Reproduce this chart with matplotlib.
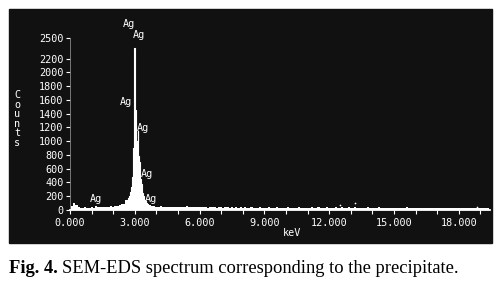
'''
SEM-EDS spectrum of the precipitate (Ag L lines)
'''
import matplotlib
matplotlib.use('Agg')
import matplotlib.pyplot as plt
from matplotlib.patches import Rectangle
from matplotlib.ticker import MultipleLocator
import numpy as np

# background counts, 0.1 keV channels from 0 to 19.4 keV
bg_kev = np.round(np.arange(0, 19.45, 0.1), 1)
bg_counts = [
    0, 60, 95, 70, 45, 35, 30, 40, 35, 30,
    40, 35, 55, 50, 45, 40, 50, 45, 40, 55,
    50, 60, 55, 70, 90, 80, 140, 110, 150, 200,
    300, 300, 250, 200, 150, 100, 80, 70, 60, 55,
    50, 45, 55, 40, 50, 45, 40, 50, 45, 40,
    45, 50, 40, 45, 55, 40, 45, 40, 50, 45,
    40, 45, 40, 50, 35, 40, 45, 40, 35, 45,
    40, 35, 45, 40, 35, 40, 30, 40, 35, 40,
    35, 40, 30, 35, 40, 35, 30, 35, 40, 30,
    35, 30, 40, 35, 30, 35, 40, 30, 35, 30,
    35, 40, 30, 35, 30, 35, 40, 35, 30, 35,
    30, 35, 40, 30, 35, 40, 30, 35, 30, 40,
    35, 30, 35, 40, 30, 35, 45, 30, 35, 40,
    30, 35, 40, 30, 35, 30, 35, 30, 40, 35,
    30, 35, 30, 40, 30, 35, 30, 35, 30, 35,
    30, 35, 30, 30, 35, 30, 40, 30, 35, 30,
    35, 30, 30, 35, 30, 30, 35, 30, 30, 35,
    30, 30, 35, 30, 30, 35, 30, 30, 35, 30,
    30, 35, 30, 30, 30, 35, 30, 30, 35, 30,
    30, 30, 35, 30, 30,
]

# Ag L-line region, 0.02 keV channels from 2.60 to 3.80 keV
peak_kev = np.round(np.arange(2.60, 3.81, 0.02), 2)
peak_counts = [
    120, 90, 110, 140, 130, 170, 150, 200, 190, 240,
    260, 300, 340, 400, 430, 480, 600, 900, 1480, 2350,
    1520, 1500, 1450, 1300, 900, 800, 1000, 1150, 950, 780,
    760, 700, 560, 450, 420, 380, 360, 300, 250, 220,
    200, 170, 140, 120, 150, 110, 130, 100, 90, 80,
    70, 75, 60, 65, 55, 60, 50, 55, 50, 45, 50,
]

# stray counts above the baseline
dot_kev = [12.5, 13.2, 18.85]
dot_counts = [75, 100, 45]

# "Ag" peak labels
ag_kev = [2.73, 3.17, 2.57, 3.36, 3.54, 3.73, 1.20]
ag_counts = [2700, 2545, 1570, 1185, 523, 167, 153]

xticks = [0, 3, 6, 9, 12, 15, 18]
xtick_labels = ["0.000", "3.000", "6.000", "9.000", "12.000", "15.000", "18.000"]
yticks = [0, 200, 400, 600, 800, 1000, 1200, 1400, 1600, 1800, 2000, 2200, 2500]

W, H = 496, 289
mono = 'DejaVu Sans Mono'
fs = 7.3

fig = plt.figure(figsize=(W / 100, H / 100), dpi=100)
fig.patch.set_facecolor('white')

# black instrument screen
fig.patches.append(Rectangle((9 / W, 1 - 243 / H), 483 / W, 234 / H,
                             transform=fig.transFigure, color='#111111',
                             zorder=-1))

ax = fig.add_axes([70 / W, 1 - 210 / H, 420 / W, 172 / H])
ax.set_facecolor('none')

ax.fill_between(bg_kev, bg_counts, step='mid', color='white', lw=0)
ax.fill_between(peak_kev, peak_counts, step='mid', color='white', lw=0)
ax.plot(peak_kev, peak_counts, drawstyle='steps-mid', color='white', lw=0.8)
ax.scatter(dot_kev, dot_counts, s=1.5, color='white', lw=0)

for xk, yc in zip(ag_kev, ag_counts):
    ax.text(xk, yc, "Ag", color='white', family=mono, fontsize=fs,
            ha='center', va='center', clip_on=False)

ax.set_xlim(0, 19.44)
ax.set_ylim(0, 2500)

ax.set_xticks(xticks)
ax.set_xticklabels(xtick_labels)
ax.xaxis.set_minor_locator(MultipleLocator(1))
ax.set_yticks(yticks)

ax.tick_params(axis='both', which='both', colors='white', labelsize=fs,
               length=3, width=0.8)
ax.tick_params(axis='x', pad=3)
ax.tick_params(axis='y', pad=1.5)
for lab in ax.get_xticklabels() + ax.get_yticklabels():
    lab.set_family(mono)

for side in ['top', 'right']:
    ax.spines[side].set_visible(False)
ax.spines['bottom'].set_color('white')
ax.spines['bottom'].set_linewidth(1.3)
ax.spines['left'].set_color('#888888')
ax.spines['left'].set_linewidth(0.6)

# axis titles
fig.text(292 / W, 1 - 233 / H, "keV", color='white', family=mono,
         fontsize=fs, ha='center', va='center')
for i, ch in enumerate("Counts"):
    fig.text(17 / W, 1 - (95 + 9.6 * i) / H, ch, color='white', family=mono,
             fontsize=fs, ha='center', va='center')

# caption
cap1 = fig.text(9 / W, 1 - 273 / H, "Fig. 4.", family='Liberation Serif',
                weight='bold', fontsize=13.3, va='baseline')
fig.canvas.draw()
bb = cap1.get_window_extent()
fig.text(bb.x1 / W + 4 / W, 1 - 273 / H,
         "SEM-EDS spectrum corresponding to the precipitate.",
         family='Liberation Serif', fontsize=13.3, va='baseline')

plt.savefig('out.png', dpi=100)
